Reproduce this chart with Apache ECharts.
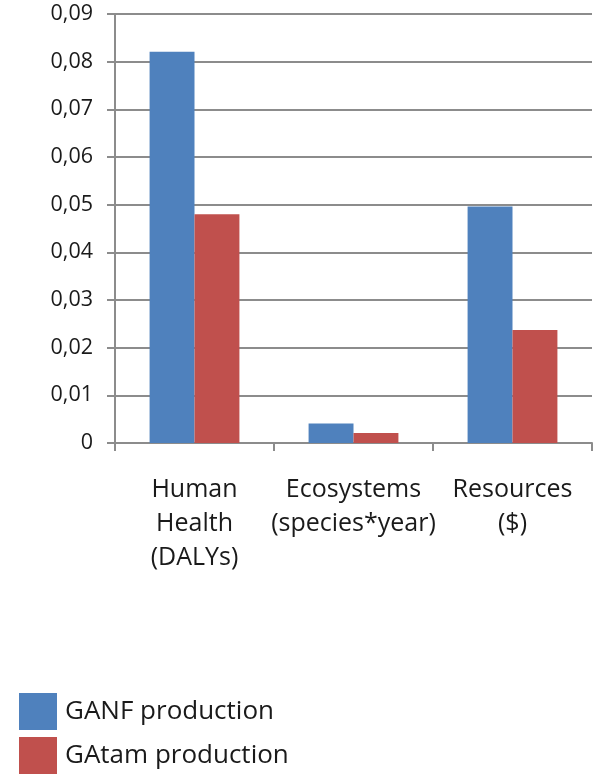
<!DOCTYPE html>
<html>
<head>
<meta charset="utf-8">
<script src="https://cdn.jsdelivr.net/npm/echarts@6/dist/echarts.min.js"></script>
<style>
  html, body { margin: 0; padding: 0; background: #fff; }
  #chart { width: 593px; height: 775px; }
</style>
</head>
<body>
<div id="chart"></div>
<script>
// Impact categories and the two production routes
const categories = ['Human\nHealth\n(DALYs)', 'Ecosystems\n(species*year)', 'Resources\n($)'];
const seriesNames = ['GANF production', 'GAtam production'];
const ganfValues = [0.0821, 0.0041, 0.0496];
const gatamValues = [0.0480, 0.0021, 0.0237];
const yTicks = [0, 0.01, 0.02, 0.03, 0.04, 0.05, 0.06, 0.07, 0.08, 0.09];

const FONT = '"Open Sans", sans-serif';
const GRID_COLOR = '#8c8c8c';

const chart = echarts.init(document.getElementById('chart'), null, { renderer: 'canvas' });

chart.setOption({
  animation: false,
  backgroundColor: '#ffffff',
  textStyle: { fontFamily: FONT },
  grid: { left: 115, right: 1, top: 14, bottom: 332, containLabel: false },
  legend: {
    orient: 'vertical',
    left: 19,
    top: 693,
    padding: 0,
    itemWidth: 38,
    itemHeight: 37,
    itemGap: 7,
    icon: 'rect',
    data: seriesNames,
    textStyle: { fontFamily: FONT, fontSize: 26, color: '#1a1a1a', padding: [0, 0, 0, 3] }
  },
  xAxis: {
    type: 'category',
    data: categories,
    boundaryGap: true,
    axisLine: { show: true, lineStyle: { color: GRID_COLOR, width: 2 } },
    axisTick: { show: true, length: 8, alignWithLabel: false, lineStyle: { color: GRID_COLOR, width: 2 } },
    axisLabel: {
      margin: 30,
      fontFamily: FONT,
      fontSize: 25,
      lineHeight: 34,
      color: '#1a1a1a',
      interval: 0
    }
  },
  yAxis: {
    type: 'value',
    min: yTicks[0],
    max: yTicks[yTicks.length - 1],
    interval: 0.01,
    axisLine: { show: true, lineStyle: { color: GRID_COLOR, width: 2 } },
    axisTick: { show: true, length: 8, lineStyle: { color: GRID_COLOR, width: 2 } },
    splitLine: { show: true, lineStyle: { color: GRID_COLOR, width: 2 } },
    axisLabel: {
      margin: 22,
      fontFamily: FONT,
      fontSize: 21.5,
      color: '#1a1a1a',
      formatter: function (v) {
        return v === 0 ? '0' : v.toFixed(2).replace('.', ',');
      }
    }
  },
  series: [
    {
      name: seriesNames[0],
      type: 'bar',
      data: ganfValues,
      barGap: '0%',
      barCategoryGap: '43.5%',
      itemStyle: { color: '#4f81bd' }
    },
    {
      name: seriesNames[1],
      type: 'bar',
      data: gatamValues,
      barGap: '0%',
      barCategoryGap: '43.5%',
      itemStyle: { color: '#c0504d' }
    }
  ]
});
</script>
</body>
</html>
